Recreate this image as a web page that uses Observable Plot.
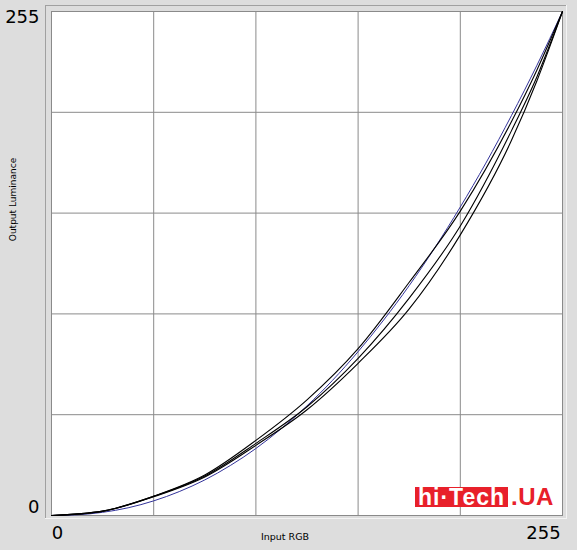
<!DOCTYPE html>
<html>
<head>
<meta charset="utf-8">
<script src="https://cdn.jsdelivr.net/npm/d3@7"></script>
<script src="https://cdn.jsdelivr.net/npm/@observablehq/plot@0.6"></script>
<style>
  html, body { margin: 0; padding: 0; background: #dddddd; }
  #wrap { position: relative; width: 577px; height: 550px; }
  #logo { position: absolute; left: 415px; top: 487px; height: 20px; display: flex; align-items: center;
          font-family: "Liberation Sans", Arial, sans-serif; font-weight: bold; }
  #logo .box { background: #e8202a; color: #fff; font-size: 23px; line-height: 20px; height: 20px; padding: 0 3px 0 3px; letter-spacing: 1px; }
  #logo .ua { color: #e8202a; font-size: 24px; line-height: 20px; margin-left: 3px; letter-spacing: 0.5px; }
</style>
</head>
<body>
<div id="wrap"></div>
<script>
// Gamma reference curve (blue)
const refInput = [0, 12.75, 25.5, 38.25, 51, 63.75, 76.5, 89.25, 102, 114.75, 127.5, 140.25, 153, 165.75, 178.5, 191.25, 204, 216.75, 229.5, 242.25, 255];
const refOutput = [0, 0.35, 1.6, 3.9, 7.4, 12.1, 18.0, 25.3, 33.9, 44.0, 55.5, 68.4, 82.9, 98.9, 116.3, 135.4, 156.1, 178.3, 202.3, 227.8, 255];

// Measured curves (black)
const measInput = [0, 25.5, 51, 76.5, 102, 127.5, 153, 178.5, 204, 229.5, 242.25, 255];
const measA = [0, 2.2, 9.8, 20.5, 38.0, 58.5, 84.4, 118.0, 154.0, 199.2, 225.4, 255];
const measB = [0, 2.2, 9.7, 20.0, 36.5, 55.0, 79.5, 110.0, 146.5, 194.6, 222.0, 255];
const measC = [0, 2.1, 9.5, 19.5, 35.5, 53.5, 77.0, 104.5, 142.0, 189.7, 220.0, 255];

const gridTicks = [51, 102, 153, 204];
const xAxisLabel = "Input RGB";
const yAxisLabel = "Output Luminance";

const refRows = refInput.map((x, i) => ({x, y: refOutput[i]}));
const measRows = [];
[["A", measA], ["B", measB], ["C", measC]].forEach(([k, arr]) =>
  measInput.forEach((x, i) => measRows.push({k, x, y: arr[i]})));

const font = "'DejaVu Sans', Verdana, sans-serif";

const chart = Plot.plot({
  width: 577,
  height: 550,
  marginLeft: 51,
  marginTop: 11,
  marginRight: 15,
  marginBottom: 35,
  style: {background: "#dddddd", fontFamily: font, color: "#000"},
  x: {domain: [0, 255]},
  y: {domain: [0, 255]},
  marks: [
    Plot.frame({fill: "white", stroke: null}),
    Plot.ruleX(gridTicks, {stroke: "#8a8a8a", strokeWidth: 1}),
    Plot.ruleY(gridTicks, {stroke: "#8a8a8a", strokeWidth: 1}),
    Plot.frame({stroke: "#8a8a8a", strokeWidth: 1}),
    Plot.line(refRows, {x: "x", y: "y", stroke: "#33339a", strokeWidth: 1, curve: "monotone-x"}),
    Plot.line(measRows, {x: "x", y: "y", z: "k", stroke: "#000", strokeWidth: 1.1, curve: "monotone-x"}),
    Plot.axisY({ticks: [255], tickSize: 0, tickPadding: 12, dy: 6, fontSize: 18, label: null}),
    Plot.axisY({ticks: [0], tickSize: 0, tickPadding: 12, dy: -8, fontSize: 18, label: null}),
    Plot.axisX({ticks: [0], tickSize: 0, tickPadding: 11, dx: 6, fontSize: 18, label: null}),
    Plot.axisX({ticks: [255], tickSize: 0, tickPadding: 11, dx: -19, fontSize: 18, label: null}),
    Plot.text([xAxisLabel], {frameAnchor: "bottom", text: d => d, dx: -22, dy: 24, fontSize: 9.5}),
    Plot.text([yAxisLabel], {frameAnchor: "left", text: d => d, rotate: -90, textAnchor: "middle", dx: -38, dy: -64, fontSize: 9})
  ]
});

// sunken panel border decoration
const svg = d3.select(chart);
svg.append("line").attr("x1", 45.5).attr("x2", 45.5).attr("y1", 5).attr("y2", 519).attr("stroke", "#a0a0a0");
svg.append("line").attr("x1", 45).attr("x2", 566).attr("y1", 5.5).attr("y2", 5.5).attr("stroke", "#a0a0a0");
svg.append("line").attr("x1", 45).attr("x2", 567).attr("y1", 518.5).attr("y2", 518.5).attr("stroke", "#f4f4f4");
svg.append("line").attr("x1", 566.5).attr("x2", 566.5).attr("y1", 5).attr("y2", 519).attr("stroke", "#f4f4f4");

const wrap = document.getElementById("wrap");
wrap.appendChild(chart);
const logo = document.createElement("div");
logo.id = "logo";
logo.innerHTML = '<span class="box">hi·Tech</span><span class="ua">.UA</span>';
wrap.appendChild(logo);
</script>
</body>
</html>
